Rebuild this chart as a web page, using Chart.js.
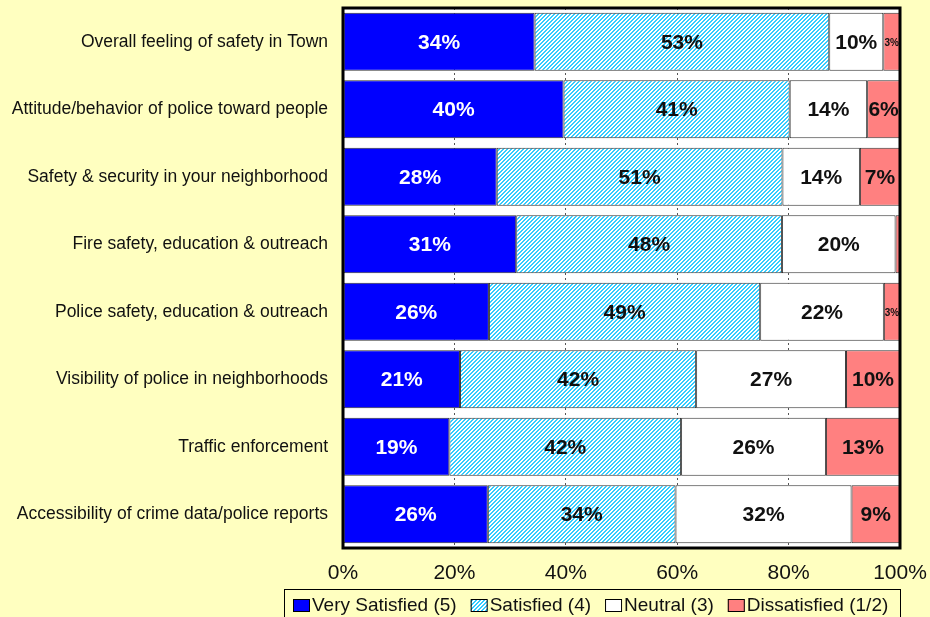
<!DOCTYPE html>
<html>
<head>
<meta charset="utf-8">
<script src="https://cdn.jsdelivr.net/npm/chart.js@4/dist/chart.umd.min.js"></script>
<style>
	html, body { margin: 0; padding: 0; background: #ffffc0; }
	#wrap { width: 930px; height: 617px; }
</style>
</head>
<body>
<div id="wrap"><canvas id="myChart" width="930" height="617"></canvas></div>
<script>
const categories = [
	"Overall feeling of safety in Town",
	"Attitude/behavior of police toward people",
	"Safety & security in your neighborhood",
	"Fire safety, education & outreach",
	"Police safety, education & outreach",
	"Visibility of police in neighborhoods",
	"Traffic enforcement",
	"Accessibility of crime data/police reports",
];

// percent of respondents
const verySatisfied = [34.4, 39.6, 27.6, 31.1, 26.2, 21.0, 19.1, 26.0];
const satisfied = [52.9, 40.6, 51.3, 47.7, 48.7, 42.4, 41.6, 33.7];
const neutral = [9.7, 13.9, 13.9, 20.4, 22.2, 26.9, 26.0, 31.6];
const dissatisfied = [3.0, 5.9, 7.2, 0.8, 2.9, 9.7, 13.3, 8.7];

const seriesNames = ["Very Satisfied (5)", "Satisfied (4)", "Neutral (3)", "Dissatisfied (1/2)"];
const xTicks = [0, 20, 40, 60, 80, 100];

// hatch for the "Satisfied" bars
function makeHatch() {
	const c = document.createElement("canvas");
	c.width = 4;
	c.height = 4;
	const g = c.getContext("2d");
	g.fillStyle = "#ffffff";
	g.fillRect(0, 0, 4, 4);
	g.fillStyle = "#33ccff";
	for (let i = 0; i < 4; i++) {
		g.fillRect(3 - i, i, 1, 1);
		g.fillRect((4 - i) % 4, i, 1, 1);
	}
	return document.getElementById("myChart").getContext("2d").createPattern(c, "repeat");
}
const hatch = makeHatch();

const colors = ["#0000ff", hatch, "#ffffff", "#ff8080"];
const labelColors = ["#ffffff", "#111111", "#111111", "#111111"];

const plotFrame = {
	id: "plotFrame",
	beforeDraw(chart) {
		const { ctx, chartArea: a } = chart;
		ctx.save();
		ctx.fillStyle = "#ffffc0";
		ctx.fillRect(0, 0, chart.width, chart.height);
		ctx.fillStyle = "#ffffff";
		ctx.fillRect(a.left, a.top, a.right - a.left, a.bottom - a.top);
		ctx.restore();
	},
	afterDatasetsDraw(chart) {
		const { ctx, chartArea: a } = chart;
		ctx.save();
		// value labels
		ctx.textAlign = "center";
		ctx.textBaseline = "middle";
		chart.data.datasets.forEach((ds, d) => {
			const meta = chart.getDatasetMeta(d);
			meta.data.forEach((bar, i) => {
				const v = ds.data[i];
				if (v < 1) return;
				ctx.fillStyle = labelColors[d];
				ctx.font = v < 4 ? "bold 10px Arial, 'Liberation Sans'" : "bold 21px Arial, 'Liberation Sans'";
				ctx.fillText(Math.round(v) + "%", (bar.base + bar.x) / 2, bar.y + 1);
			});
		});
		// frame
		ctx.strokeStyle = "#000000";
		ctx.lineWidth = 3;
		ctx.strokeRect(a.left, a.top, a.right - a.left, a.bottom - a.top);
		ctx.restore();
	},
	afterDraw(chart) {
		const { ctx } = chart;
		ctx.save();
		ctx.strokeStyle = "#000000";
		ctx.lineWidth = 1;
		ctx.strokeRect(284.5, 589.5, 616, 40);
		ctx.font = "19px Arial, 'Liberation Sans'";
		ctx.textBaseline = "middle";
		let x = 293;
		const y = 605;
		chart.data.datasets.forEach((ds, d) => {
			ctx.fillStyle = colors[d];
			ctx.fillRect(x, y - 6, 17, 13);
			ctx.strokeStyle = "#000000";
			ctx.strokeRect(x + 0.5, y - 5.5, 16, 12);
			x += 19;
			ctx.fillStyle = "#111111";
			ctx.fillText(ds.label, x, y + 1);
			x += ctx.measureText(ds.label).width + 14;
		});
		ctx.restore();
	},
};

const config = {
	type: "bar",
	data: {
		labels: categories,
		datasets: [verySatisfied, satisfied, neutral, dissatisfied].map((vals, d) => ({
			label: seriesNames[d],
			data: vals,
			backgroundColor: colors[d],
			borderColor: "#333333",
			borderWidth: 1,
			borderSkipped: false,
			barPercentage: 0.86,
			categoryPercentage: 1,
		})),
	},
	options: {
		indexAxis: "y",
		responsive: false,
		animation: false,
		layout: { padding: { top: 8, right: 30, bottom: 0, left: 0 } },
		plugins: {
			legend: { display: false },
			tooltip: { enabled: false },
		},
		scales: {
			x: {
				stacked: true,
				min: 0,
				max: 100,
				afterBuildTicks(scale) {
					scale.ticks = xTicks.map((v) => ({ value: v }));
				},
				afterFit(scale) {
					scale.height = 69;
					scale.paddingLeft = 0;
					scale.paddingRight = 0;
				},
				ticks: {
					callback: (v) => v + "%",
					color: "#111111",
					font: { family: "Arial, 'Liberation Sans'", size: 21 },
					padding: 13,
					maxRotation: 0,
				},
				grid: {
					color: "#555555",
					drawTicks: false,
				},
				border: { display: true, color: "#000000", dash: [2, 3] },
			},
			y: {
				stacked: true,
				afterFit(scale) {
					scale.width = 343;
					scale.paddingTop = 0;
					scale.paddingBottom = 0;
				},
				ticks: {
					color: "#111111",
					font: { family: "Arial, 'Liberation Sans'", size: 17.5 },
					padding: 15,
				},
				grid: { display: false, drawTicks: false },
				border: { display: false },
			},
		},
	},
	plugins: [plotFrame],
};

new Chart(document.getElementById("myChart"), config);
</script>
</body>
</html>
